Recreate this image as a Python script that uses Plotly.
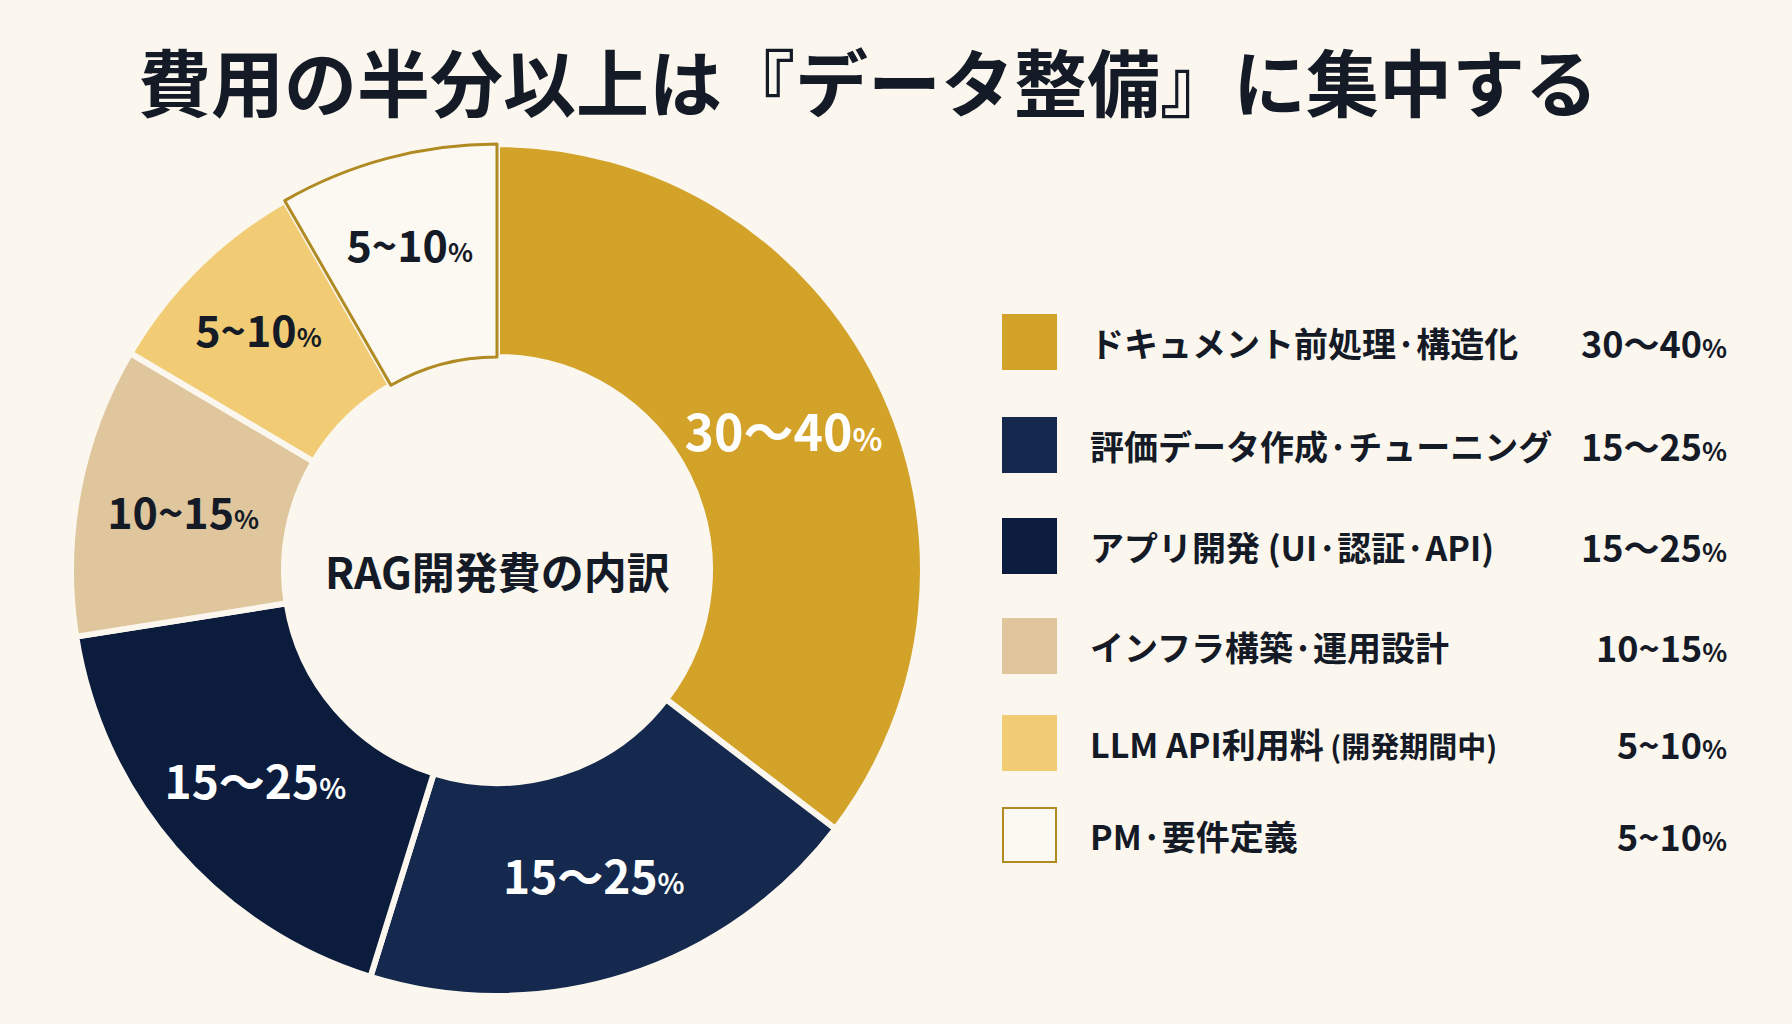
import plotly.graph_objects as go

# data (share of RAG development cost)
categories = ["ドキュメント前処理·構造化", "評価データ作成·チューニング", "アプリ開発 (UI·認証·API)",
              "インフラ構築·運用設計", "LLM API利用料", "PM·要件定義"]
legend_notes = ["", "", "", "", " (開発期間中)", ""]
ranges = ["30〜40", "15〜25", "15〜25", "10~15", "5~10", "5~10"]
shares = [35.4, 19.4, 17.7, 11.0, 8.2, 8.3]

colors = ["#D3A229", "#14294D", "#0B1C3D", "#DFC69C", "#F1CC74", "#FCF9F2"]
line_colors = ["#FBF7EF", "#FBF7EF", "#FBF7EF", "#FBF7EF", "#FBF7EF", "#B08A22"]
line_widths = [6, 6, 6, 6, 6, 3]
text_colors = ["white", "white", "white", "#141a26", "#141a26", "#141a26"]
text_sizes = [50, 46, 46, 43, 43, 43]

BG = "#FBF7EF"
DARK = "#141a26"
FONT = "Noto Sans CJK JP"
W, H = 1792, 1024

# slice labels with a smaller percent sign
slice_text = []
for r, s in zip(ranges, text_sizes):
    slice_text.append(f"<b>{r}<span style='font-size:{int(s*0.62)}px'>%</span></b>")

# donut placement (pixels)
cx, cy, rad = 497, 570, 426

fig = go.Figure()
fig.add_trace(go.Pie(
    labels=categories,
    values=shares,
    text=slice_text,
    textinfo="text",
    textposition="inside",
    insidetextorientation="horizontal",
    insidetextfont=dict(family=FONT, color=text_colors, size=text_sizes),
    hole=0.5,
    sort=False,
    direction="clockwise",
    rotation=0,
    marker=dict(colors=colors, line=dict(color=line_colors, width=line_widths)),
    domain=dict(x=[(cx - rad) / W, (cx + rad) / W], y=[(H - cy - rad) / H, (H - cy + rad) / H]),
    showlegend=False,
))

annotations = [
    dict(text="<b>費用の半分以上は『データ整備』に集中する</b>", x=868 / W, y=1 - 79 / H,
         font=dict(size=73, color=DARK, family=FONT, weight=900)),
    dict(text="<b>RAG開発費の内訳</b>", x=cx / W, y=1 - cy / H,
         font=dict(size=43, color=DARK, family=FONT)),
]

# custom legend with value column
row_y = [342, 445, 546, 646, 743, 835]
shapes = []
for i, name in enumerate(categories):
    y = row_y[i]
    shapes.append(dict(type="rect", xref="paper", yref="paper",
                       x0=1003 / W, x1=1056 / W, y0=1 - (y + 27) / H, y1=1 - (y - 27) / H,
                       fillcolor=colors[i],
                       line=dict(color=line_colors[i] if i == 5 else colors[i], width=2)))
    label = f"<b>{name}</b>"
    if legend_notes[i]:
        label += f"<b><span style='font-size:29px'>{legend_notes[i]}</span></b>"
    annotations.append(dict(text=label, x=1088 / W, y=1 - y / H, xanchor="left",
                            font=dict(size=34, color=DARK, family=FONT)))
    annotations.append(dict(text=f"<b>{ranges[i]}<span style='font-size:26px'>%</span></b>",
                            x=1729 / W, y=1 - y / H, xanchor="right",
                            font=dict(size=36, color=DARK, family=FONT)))

for a in annotations:
    a.update(xref="paper", yref="paper", showarrow=False)
    a.setdefault("xanchor", "center")
    a["yanchor"] = "middle"

fig.update_layout(
    width=W, height=H,
    margin=dict(l=0, r=0, t=0, b=0),
    paper_bgcolor=BG, plot_bgcolor=BG,
    font=dict(family=FONT, color=DARK),
    annotations=annotations,
    shapes=shapes,
)

fig.write_html("out.html", config={"displayModeBar": False},
               post_script="document.body.style.margin='0';")
